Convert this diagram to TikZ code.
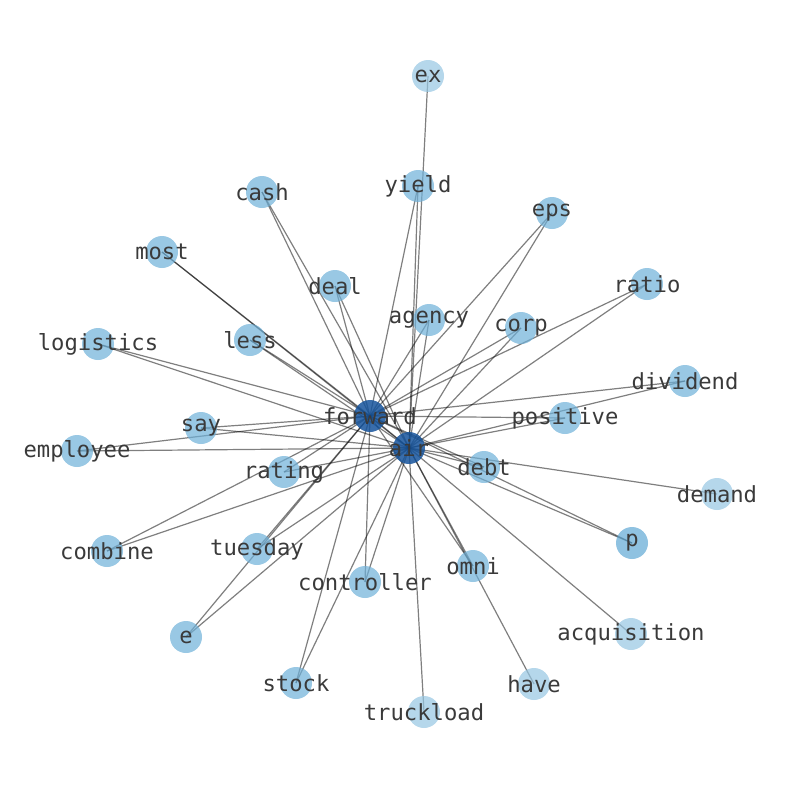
\documentclass[tikz,border=0pt]{standalone}
\usepackage{fontspec}
\setmonofont{DejaVu Sans Mono}
\definecolor{hubc}{RGB}{22,84,156}
\definecolor{d2c}{RGB}{110,176,216}
\definecolor{d1c}{RGB}{150,198,226}
\definecolor{pc}{RGB}{96,168,212}
\definecolor{txtc}{RGB}{58,58,58}
\tikzset{
  edge/.style={draw=black, opacity=0.5, line width=1.2pt},
  hub/.style={circle, fill=hubc, opacity=0.85, minimum size=32pt, inner sep=0pt},
  dtwo/.style={circle, fill=d2c, opacity=0.7, minimum size=32pt, inner sep=0pt},
  done/.style={circle, fill=d1c, opacity=0.7, minimum size=32pt, inner sep=0pt},
  dp/.style={circle, fill=pc, opacity=0.7, minimum size=32pt, inner sep=0pt},
  lbl/.style={text=txtc, font=\ttfamily\fontsize{22.2}{26}\selectfont, inner sep=0pt, anchor=center}
}
\begin{document}
\begin{tikzpicture}[x=1pt,y=-1pt]
\useasboundingbox (0,0) rectangle (794,790);
% positions
\foreach \n/\x/\y in {
  ex/428/76, yield/418/186, cash/262/192, eps/552/213, most/162/252,
  deal/335/286, ratio/647/284, logistics/98/344, less/250/340,
  agency/429/320, corp/521/328, dividend/685/381, forward/370/416,
  positive/565/418, say/201/428, air/409/448, employee/77/451,
  rating/284/472, debt/484/467, demand/717/494, combine/107/551,
  tuesday/257/549, p/632/543, omni/473/566, controller/365/582,
  e/186/637, acquisition/631/634, stock/296/683, have/534/684,
  truckload/424/712}
  \coordinate (\n) at (\x,\y);
% edges
\foreach \a in {yield,cash,eps,most,deal,ratio,logistics,less,agency,corp,
  dividend,positive,say,employee,rating,debt,combine,tuesday,p,omni,
  controller,e,stock}{
  \draw[edge] (\a) -- (forward);
  \draw[edge] (\a) -- (air);
}
\draw[edge] (forward) -- (air);
\foreach \a in {ex,demand,acquisition,have,truckload}
  \draw[edge] (\a) -- (air);
% nodes
\foreach \a in {yield,cash,eps,most,deal,ratio,logistics,less,agency,corp,
  dividend,positive,say,employee,rating,debt,combine,tuesday,omni,
  controller,e,stock}
  \node[dtwo] (n-\a) at (\a) {};
\node[dp] (n-p) at (p) {};
\foreach \a in {ex,demand,acquisition,have,truckload}
  \node[done] (n-\a) at (\a) {};
\node[hub] (n-forward) at (forward) {};
\node[hub] (n-air) at (air) {};
% labels
\foreach \a in {ex,yield,cash,eps,most,deal,ratio,logistics,less,agency,corp,
  dividend,forward,positive,say,air,employee,rating,debt,demand,combine,
  tuesday,p,omni,controller,e,acquisition,stock,have,truckload}
  \node[lbl] (t-\a) at (\a) {\a};
\end{tikzpicture}
\end{document}
